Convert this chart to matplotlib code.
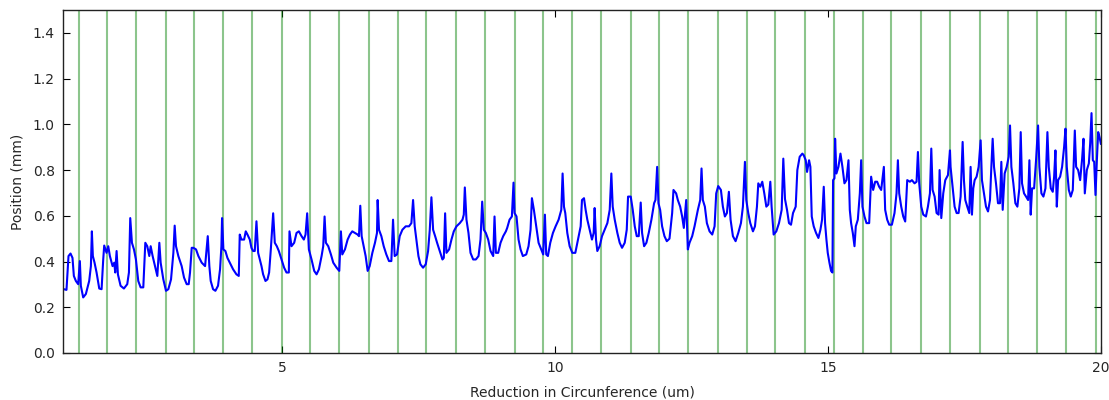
import matplotlib
matplotlib.use("Agg")
from matplotlib import pyplot as plt

# reduction in circumference (um) / position (mm)
reduction_um = [
    0.985, 1.000, 1.049, 1.086, 1.123, 1.159, 1.184, 1.221, 1.263, 1.294, 1.312, 1.355, 1.404, 1.465,
    1.496, 1.514, 1.532, 1.563, 1.600, 1.649, 1.692, 1.722, 1.740, 1.783, 1.814, 1.844, 1.893, 1.924,
    1.942, 1.967, 1.991, 2.040, 2.101, 2.162, 2.193, 2.217, 2.248, 2.285, 2.321, 2.364, 2.407, 2.456,
    2.493, 2.529, 2.566, 2.591, 2.627, 2.670, 2.713, 2.750, 2.774, 2.823, 2.872, 2.915, 2.964, 3.007,
    3.031, 3.055, 3.098, 3.159, 3.202, 3.251, 3.288, 3.312, 3.343, 3.373, 3.422, 3.465, 3.526, 3.588,
    3.637, 3.666, 3.691, 3.734, 3.777, 3.825, 3.862, 3.887, 3.899, 3.923, 3.960, 3.997, 4.040, 4.101,
    4.162, 4.205, 4.223, 4.254, 4.303, 4.333, 4.364, 4.407, 4.437, 4.468, 4.498, 4.529, 4.560, 4.590,
    4.621, 4.651, 4.694, 4.731, 4.761, 4.792, 4.835, 4.865, 4.902, 4.939, 4.988, 5.036, 5.079, 5.122,
    5.134, 5.171, 5.220, 5.263, 5.306, 5.355, 5.397, 5.428, 5.458, 5.489, 5.538, 5.587, 5.630, 5.673,
    5.722, 5.752, 5.777, 5.801, 5.844, 5.893, 5.936, 5.997, 6.046, 6.076, 6.101, 6.150, 6.199, 6.242,
    6.284, 6.333, 6.382, 6.407, 6.431, 6.456, 6.493, 6.529, 6.566, 6.603, 6.652, 6.700, 6.737, 6.749,
    6.774, 6.817, 6.860, 6.908, 6.957, 7.000, 7.031, 7.061, 7.104, 7.153, 7.202, 7.263, 7.324, 7.367,
    7.398, 7.428, 7.459, 7.496, 7.532, 7.581, 7.630, 7.673, 7.704, 7.734, 7.765, 7.802, 7.838, 7.887,
    7.936, 7.961, 7.985, 8.009, 8.058, 8.101, 8.144, 8.193, 8.254, 8.303, 8.327, 8.346, 8.376, 8.413,
    8.450, 8.499, 8.548, 8.597, 8.633, 8.664, 8.694, 8.731, 8.774, 8.817, 8.866, 8.890, 8.915, 8.957,
    9.000, 9.049, 9.098, 9.122, 9.165, 9.208, 9.238, 9.257, 9.293, 9.330, 9.367, 9.409, 9.471, 9.513,
    9.550, 9.575, 9.611, 9.654, 9.697, 9.746, 9.782, 9.813, 9.837, 9.868, 9.911, 9.960, 10.009, 10.064,
    10.113, 10.137, 10.162, 10.186, 10.223, 10.266, 10.315, 10.370, 10.419, 10.468, 10.492, 10.529,
    10.559, 10.590, 10.633, 10.675, 10.706, 10.724, 10.749, 10.773, 10.816, 10.859, 10.908, 10.957,
    11.000, 11.030, 11.055, 11.092, 11.140, 11.183, 11.226, 11.275, 11.312, 11.336, 11.385, 11.422,
    11.459, 11.495, 11.532, 11.568, 11.593, 11.630, 11.672, 11.715, 11.764, 11.813, 11.838, 11.869,
    11.893, 11.924, 11.960, 12.003, 12.046, 12.095, 12.144, 12.168, 12.217, 12.248, 12.291, 12.327,
    12.358, 12.401, 12.431, 12.462, 12.511, 12.554, 12.615, 12.658, 12.682, 12.706, 12.743, 12.780,
    12.829, 12.878, 12.921, 12.951, 12.988, 13.037, 13.073, 13.110, 13.147, 13.183, 13.214, 13.257,
    13.306, 13.355, 13.404, 13.440, 13.477, 13.502, 13.538, 13.575, 13.624, 13.661, 13.697, 13.722,
    13.758, 13.795, 13.832, 13.869, 13.905, 13.942, 13.966, 14.003, 14.052, 14.101, 14.150, 14.180,
    14.211, 14.248, 14.284, 14.321, 14.358, 14.407, 14.437, 14.480, 14.529, 14.554, 14.591, 14.615,
    14.652, 14.676, 14.701, 14.737, 14.780, 14.823, 14.860, 14.890, 14.921, 14.945, 14.970, 14.994,
    15.025, 15.055, 15.080, 15.092, 15.117, 15.129, 15.153, 15.190, 15.227, 15.263, 15.300, 15.337,
    15.374, 15.398, 15.422, 15.453, 15.484, 15.508, 15.545, 15.582, 15.606, 15.630, 15.667, 15.704,
    15.753, 15.789, 15.826, 15.863, 15.899, 15.936, 15.973, 16.022, 16.046, 16.083, 16.120, 16.169,
    16.217, 16.254, 16.279, 16.303, 16.340, 16.377, 16.413, 16.450, 16.499, 16.536, 16.584, 16.621,
    16.646, 16.670, 16.707, 16.744, 16.793, 16.829, 16.866, 16.891, 16.915, 16.952, 16.988, 17.025,
    17.043, 17.074, 17.110, 17.147, 17.196, 17.233, 17.244, 17.281, 17.318, 17.355, 17.391, 17.428,
    17.465, 17.489, 17.514, 17.550, 17.587, 17.611, 17.636, 17.660, 17.685, 17.721, 17.758, 17.795,
    17.819, 17.856, 17.893, 17.930, 17.966, 17.991, 18.015, 18.040, 18.076, 18.113, 18.150, 18.174,
    18.199, 18.235, 18.272, 18.309, 18.333, 18.358, 18.394, 18.431, 18.468, 18.504, 18.529, 18.553,
    18.590, 18.627, 18.664, 18.688, 18.712, 18.737, 18.774, 18.810, 18.847, 18.871, 18.908, 18.945,
    18.982, 19.018, 19.043, 19.080, 19.116, 19.141, 19.165, 19.190, 19.214, 19.251, 19.287, 19.324,
    19.349, 19.373, 19.410, 19.446, 19.483, 19.520, 19.544, 19.581, 19.618, 19.654, 19.679, 19.703,
    19.740, 19.777, 19.801, 19.826, 19.850, 19.875, 19.899, 19.924, 19.948, 19.973, 19.997,
]
position_mm = [
    0.280, 0.279, 0.276, 0.424, 0.435, 0.416, 0.337, 0.315, 0.301, 0.402, 0.294, 0.243, 0.258, 0.315,
    0.380, 0.532, 0.424, 0.395, 0.352, 0.282, 0.279, 0.409, 0.470, 0.438, 0.467, 0.424, 0.380, 0.395,
    0.352, 0.446, 0.344, 0.294, 0.282, 0.301, 0.352, 0.590, 0.482, 0.453, 0.409, 0.315, 0.287, 0.287,
    0.482, 0.467, 0.424, 0.467, 0.424, 0.380, 0.337, 0.482, 0.395, 0.322, 0.272, 0.279, 0.322, 0.438,
    0.557, 0.467, 0.424, 0.380, 0.330, 0.301, 0.301, 0.352, 0.460, 0.460, 0.453, 0.424, 0.395, 0.380,
    0.511, 0.380, 0.315, 0.279, 0.272, 0.294, 0.366, 0.467, 0.590, 0.453, 0.446, 0.416, 0.395, 0.366,
    0.344, 0.337, 0.518, 0.496, 0.496, 0.532, 0.518, 0.496, 0.460, 0.446, 0.446, 0.576, 0.438, 0.409,
    0.380, 0.344, 0.315, 0.322, 0.352, 0.453, 0.611, 0.482, 0.467, 0.446, 0.409, 0.373, 0.352, 0.352,
    0.532, 0.467, 0.482, 0.525, 0.532, 0.511, 0.496, 0.518, 0.611, 0.453, 0.409, 0.359, 0.344, 0.366,
    0.424, 0.467, 0.597, 0.482, 0.467, 0.431, 0.395, 0.373, 0.359, 0.532, 0.431, 0.453, 0.496, 0.518,
    0.532, 0.525, 0.518, 0.511, 0.644, 0.511, 0.467, 0.424, 0.359, 0.380, 0.438, 0.482, 0.525, 0.669,
    0.539, 0.511, 0.467, 0.431, 0.402, 0.402, 0.583, 0.424, 0.431, 0.511, 0.539, 0.554, 0.554, 0.568,
    0.669, 0.554, 0.496, 0.424, 0.388, 0.373, 0.388, 0.446, 0.539, 0.681, 0.539, 0.511, 0.482, 0.446,
    0.409, 0.416, 0.611, 0.438, 0.453, 0.496, 0.532, 0.554, 0.568, 0.583, 0.605, 0.724, 0.583, 0.525,
    0.438, 0.409, 0.409, 0.424, 0.496, 0.662, 0.539, 0.525, 0.496, 0.446, 0.424, 0.597, 0.438, 0.438,
    0.482, 0.511, 0.532, 0.547, 0.583, 0.597, 0.745, 0.612, 0.597, 0.496, 0.453, 0.424, 0.431, 0.467,
    0.539, 0.677, 0.626, 0.554, 0.482, 0.453, 0.431, 0.605, 0.431, 0.424, 0.482, 0.525, 0.554, 0.583,
    0.626, 0.785, 0.640, 0.612, 0.525, 0.467, 0.438, 0.438, 0.496, 0.554, 0.669, 0.677,
    0.626, 0.583, 0.539, 0.496, 0.525, 0.634, 0.496, 0.446, 0.467, 0.511, 0.539, 0.568,
    0.626, 0.785, 0.640, 0.583, 0.525, 0.482, 0.460, 0.482, 0.539, 0.684, 0.684, 0.626,
    0.554, 0.511, 0.511, 0.658, 0.525, 0.467, 0.482, 0.525, 0.583, 0.655, 0.669, 0.814,
    0.655, 0.626, 0.554, 0.511, 0.489, 0.500, 0.612, 0.713, 0.698, 0.669, 0.640, 0.597,
    0.547, 0.669, 0.453, 0.482, 0.511, 0.554, 0.626, 0.669, 0.807, 0.669, 0.640, 0.568,
    0.532, 0.518, 0.554, 0.698, 0.730, 0.713, 0.640, 0.597, 0.612, 0.705, 0.583, 0.511,
    0.489, 0.525, 0.568, 0.640, 0.836, 0.669, 0.612, 0.568, 0.532, 0.554, 0.640, 0.742,
    0.727, 0.749, 0.698, 0.640, 0.649, 0.749, 0.640, 0.518, 0.532, 0.568, 0.626, 0.850,
    0.673, 0.626, 0.568, 0.561, 0.612, 0.640, 0.800, 0.858, 0.872, 0.865, 0.843, 0.792,
    0.843, 0.814, 0.597, 0.554, 0.525, 0.503, 0.539, 0.583, 0.727, 0.568, 0.496, 0.438,
    0.395, 0.359, 0.352, 0.756, 0.764, 0.937, 0.785, 0.814, 0.872, 0.814, 0.742, 0.756,
    0.843, 0.626, 0.568, 0.525, 0.467, 0.554, 0.583, 0.698, 0.843, 0.640, 0.597, 0.568,
    0.568, 0.771, 0.713, 0.749, 0.749, 0.727, 0.713, 0.814, 0.626, 0.583, 0.561, 0.561,
    0.612, 0.698, 0.843, 0.698, 0.640, 0.597, 0.575, 0.756, 0.749, 0.756, 0.742, 0.749,
    0.879, 0.742, 0.640, 0.605, 0.597, 0.640, 0.698, 0.894, 0.713, 0.684, 0.612, 0.605,
    0.800, 0.590, 0.698, 0.756, 0.778, 0.886, 0.814, 0.727, 0.640, 0.612, 0.612, 0.684,
    0.923, 0.756, 0.669, 0.640, 0.612, 0.814, 0.605, 0.720, 0.756, 0.771, 0.814, 0.930,
    0.756, 0.698, 0.640, 0.619, 0.669, 0.814, 0.937, 0.814, 0.742, 0.655, 0.655, 0.836,
    0.626, 0.785, 0.814, 0.858, 0.995, 0.814, 0.742, 0.655, 0.640, 0.720, 0.966, 0.742,
    0.698, 0.684, 0.669, 0.843, 0.605, 0.720, 0.720, 0.843, 0.995, 0.814, 0.698, 0.684,
    0.720, 0.966, 0.814, 0.720, 0.705, 0.771, 0.886, 0.640, 0.756, 0.771, 0.814, 0.901,
    0.981, 0.814, 0.713, 0.684, 0.713, 0.973, 0.814, 0.800, 0.756, 0.850, 0.937, 0.698,
    0.800, 0.829, 0.915, 1.049, 0.843, 0.836, 0.691, 0.843, 0.966, 0.944, 0.915,
]

# green marker lines (um)
marker_um = [
    1.275, 1.789, 2.321, 2.872, 3.385, 3.917, 4.450, 5.000, 5.514, 6.046, 6.587, 7.128,
    7.642, 8.187, 8.719, 9.257, 9.771, 10.308, 10.848, 11.385, 11.894, 12.437, 12.982,
    13.514, 14.033, 14.572, 15.105, 15.648, 16.162, 16.701, 17.239, 17.776, 18.290,
    18.829, 19.367, 19.905,
]

txt = "#262626"
fig = plt.figure(figsize=(11.09, 4.0), dpi=100)
ax = fig.add_axes([0.0568, 0.1175, 0.936, 0.8575])

for m in marker_um:
    ax.axvline(m, color="g", alpha=0.45, lw=1.5)

ax.plot(reduction_um, position_mm, color="b", lw=1.5)

ax.set_xlim(0.985, 20.0)
ax.set_ylim(0, 1.5)
ax.set_xticks([5, 10, 15, 20])
ax.set_yticks([0.0, 0.2, 0.4, 0.6, 0.8, 1.0, 1.2, 1.4])
ax.set_yticklabels(["0.0", "0.2", "0.4", "0.6", "0.8", "1.0", "1.2", "1.4"])
ax.tick_params(direction="in", top=True, right=True, length=5, width=0.8,
               labelsize=10, labelcolor=txt, pad=6)
for s in ax.spines.values():
    s.set_color("#222222")
    s.set_linewidth(1.0)

ax.set_xlabel("Reduction in Circunference (um)", fontsize=10, color=txt, labelpad=7)
ax.set_ylabel("Position (mm)", fontsize=10, color=txt, labelpad=6)

fig.savefig("out.png", dpi=100)
